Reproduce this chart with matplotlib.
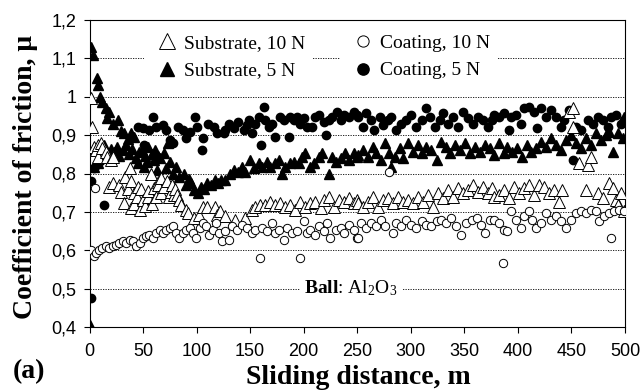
import matplotlib
matplotlib.use("Agg")
import matplotlib.pyplot as plt

# ---- data (sliding distance in m, friction coefficient) ----
sub10_x = [1.2, 2.8, 4.4, 6, 7.5, 7.5, 10.6, 12, 15.3, 16.8, 18.4, 20, 21.5, 21.5, 28, 29.3,
           32.5, 33, 36, 37.5, 38.7, 39, 41.8, 42, 44, 45, 47, 48, 50, 52, 54.3, 55, 57.4, 58,
           60.5, 62, 63.5, 64, 66.6, 67, 69.7, 72, 74, 76, 77, 79, 80, 82, 84, 85.5, 90, 91.8,
           98, 102.7, 105.8, 110, 117, 118.6, 121.8,
           126.7, 136, 145.4, 151.7, 154.8, 159.5, 164.2, 168.9, 173.5, 178.2, 183, 187.6,
           192.3, 197, 201.6, 206.3, 211, 215.7, 218.8, 223.5, 228.2, 232.8, 237.5, 242.2,
           246.9, 250,
           250.6, 255, 260, 264.6, 269.3, 274, 278.7, 283.3, 288, 292.7, 297.4, 302, 306.7,
           311.4, 316, 320.8, 325.5, 330, 334.8, 339.5, 344, 349, 353.6, 358, 363, 367.6,
           372.3, 375.4,
           377.6, 382.3, 387, 391.7, 396.3, 401, 405.7, 410.4, 415, 419.8, 424.4, 429, 433.8,
           438.5, 441.6, 447.8, 451, 451, 457.2, 463.5, 465, 468, 474.4, 479, 485.3, 488.4,
           491.5, 493, 496.2, 499.3]
sub10_y = [0.996, 0.922, 0.87, 0.861, 0.874, 0.844, 0.879, 0.866, 0.857, 0.844, 0.766, 0.835,
           0.844, 0.775, 0.77, 0.753, 0.723, 0.79, 0.76, 0.814, 0.71, 0.78, 0.749, 0.72, 0.74,
           0.766, 0.705, 0.76, 0.731, 0.715, 0.74, 0.755, 0.8, 0.72, 0.762, 0.74, 0.779, 0.77,
           0.788, 0.75, 0.766, 0.78, 0.74, 0.753, 0.77, 0.744, 0.76, 0.745, 0.731, 0.718, 0.705,
           0.697, 0.684, 0.692, 0.714, 0.714, 0.714, 0.692, 0.701,
           0.688, 0.679, 0.684, 0.705, 0.714, 0.718, 0.718, 0.727, 0.718, 0.723, 0.714, 0.718,
           0.705, 0.727, 0.714, 0.723, 0.727, 0.71, 0.731, 0.74, 0.714, 0.731, 0.727, 0.736,
           0.723, 0.731,
           0.723, 0.714, 0.727, 0.74, 0.714, 0.731, 0.736, 0.723, 0.74, 0.727, 0.731, 0.723,
           0.74, 0.727, 0.744, 0.714, 0.749, 0.736, 0.757, 0.74, 0.762, 0.749, 0.757, 0.77,
           0.753, 0.766, 0.749, 0.762,
           0.74, 0.744, 0.757, 0.736, 0.766, 0.749, 0.762, 0.77, 0.744, 0.77, 0.766, 0.749,
           0.757, 0.727, 0.757, 0.961, 0.97, 0.922, 0.827, 0.757, 0.822, 0.844, 0.749, 0.736,
           0.775, 0.762, 0.731, 0.718, 0.749, 0.701]

sub5_x = [0.5, 1.2, 3.7, 6.9, 8.4, 10, 12, 15.3, 16.8, 18.4, 22, 26.2, 29.3, 32.5, 35.6, 38.7,
          41.8, 4.4, 7.5, 12, 14, 17, 20, 23, 26, 28, 31, 34, 37, 40, 43, 46, 49, 52, 55, 58,
          61, 64, 45, 51, 54, 57, 60.5, 63, 66, 70, 71, 73, 75, 78, 81, 84, 88, 90, 93, 95, 98,
          101, 104, 107, 110, 113, 117, 120, 123,
          126.7, 131.4, 134.5, 139, 142.3, 145.4, 150, 153.3, 158, 161, 165.7, 168.9, 173.5,
          176.7, 179.8, 183, 187.6, 190.7, 195.4, 198.5, 201.6, 206.3, 209.4, 214, 217.2,
          223.5, 226.6, 229.7, 234.4, 239, 242.2, 246.9, 250,
          250.6, 255, 260, 264.6, 267.7, 272.4, 275.5, 280, 281.8, 285, 289.6, 292.7, 297.4,
          302, 306.7, 310, 314.5, 319, 324, 328.6, 333, 336.4, 341, 345.8, 350.4, 355, 359.8,
          364.5, 369, 373.8,
          377.6, 382.3, 387, 390, 394.8, 399.5, 404, 408.8, 412, 416.6, 421.3, 426, 430.7,
          435.4, 440, 444.7, 449.4, 454, 458.8, 463.5, 468, 473, 477.5, 482, 485.3, 488.4,
          493, 497.8, 499.3]
sub5_y = [0.405, 1.13, 1.11, 1.048, 1.03, 1.0, 0.987, 0.97, 0.944, 0.96, 0.93, 0.94, 0.91,
          0.905, 0.89, 0.905, 0.896, 0.818, 0.827, 0.86, 0.875, 0.85, 0.865, 0.855, 0.87, 0.845,
          0.86, 0.875, 0.85, 0.865, 0.84, 0.855, 0.86, 0.845, 0.87, 0.85, 0.86, 0.845, 0.827,
          0.818, 0.83, 0.8, 0.835, 0.81, 0.84, 0.853, 0.814, 0.88, 0.83, 0.8, 0.818, 0.79, 0.8,
          0.77, 0.785, 0.775, 0.757, 0.75, 0.766, 0.76, 0.775, 0.77, 0.783, 0.775, 0.783,
          0.783, 0.8, 0.809, 0.805, 0.818, 0.805, 0.835, 0.814, 0.827, 0.818, 0.831, 0.818,
          0.827, 0.835, 0.8, 0.818, 0.827, 0.831, 0.827, 0.844, 0.853, 0.818, 0.827, 0.844,
          0.853, 0.8, 0.844, 0.831, 0.84, 0.853, 0.835, 0.853, 0.844,
          0.848, 0.861, 0.844, 0.87, 0.853, 0.835, 0.879, 0.853, 0.818, 0.844, 0.866, 0.84,
          0.879, 0.857, 0.874, 0.853, 0.87, 0.861, 0.835, 0.883, 0.87, 0.853, 0.874, 0.861,
          0.879, 0.853, 0.87, 0.857, 0.874, 0.866,
          0.848, 0.879, 0.853, 0.87, 0.857, 0.866, 0.844, 0.874, 0.857, 0.866, 0.883, 0.87,
          0.892, 0.874, 0.861, 0.887, 0.9, 0.879, 0.866, 0.892, 0.874, 0.905, 0.887, 0.9,
          0.909, 0.857, 0.905, 0.892, 0.948]

coat10_x = [1.2, 4.4, 6, 9, 5, 12, 15.3, 18.4, 21.5, 24.6, 27.8, 31, 34, 37.5, 40.5, 43.6, 47,
            50, 53, 56, 59, 62.5, 65.6, 68.7, 71.8, 75, 78, 81, 84, 87, 90, 93.6, 96.7, 99.8,
            103, 105.8, 109, 112, 115, 118, 121, 124,
            126.7, 129.8, 133, 137.6, 142.3, 147, 151.7, 154.8, 159.5, 161, 165.7, 170.4,
            173.5, 176.7, 181.3, 184.5, 189, 193.8, 197, 200, 203.2, 206.3, 211, 214, 218.8,
            222, 225, 229.7, 234.4, 237.5, 242.2, 246.9, 250,
            250.6, 253.7, 258.4, 263, 267.7, 272.4, 275.5, 280, 283.3, 286.5, 291, 295.8,
            300.5, 305, 310, 314.5, 319, 324, 328.6, 333, 338, 342.6, 347.3, 352, 356.7, 361.4,
            366, 369, 373.8,
            377.6, 382.3, 386.4, 387, 390, 393.2, 398, 402.6, 405.7, 410.4, 413.5, 416.6,
            421.3, 426, 430.7, 435.4, 440, 444.7, 449.4, 454, 458.8, 463.5, 468, 473, 476,
            480.6, 485.3, 487, 490, 494.6, 499.3]
coat10_y = [0.601, 0.584, 0.592, 0.601, 0.762, 0.605, 0.61, 0.605, 0.61, 0.614, 0.618, 0.623,
            0.618, 0.627, 0.623, 0.61, 0.618, 0.631, 0.636, 0.64, 0.631, 0.644, 0.653, 0.644,
            0.653, 0.657, 0.662, 0.644, 0.631, 0.644, 0.653, 0.657, 0.644, 0.631, 0.657, 0.67,
            0.662, 0.64, 0.653, 0.67, 0.644, 0.623,
            0.649, 0.627, 0.662, 0.653, 0.666, 0.657, 0.644, 0.653, 0.579, 0.657, 0.649, 0.67,
            0.644, 0.653, 0.627, 0.657, 0.644, 0.649, 0.579, 0.675, 0.644, 0.653, 0.64, 0.662,
            0.649, 0.67, 0.631, 0.653, 0.657, 0.644, 0.666, 0.653, 0.631,
            0.631, 0.67, 0.657, 0.67, 0.662, 0.679, 0.662, 0.805, 0.644, 0.67, 0.662, 0.679,
            0.666, 0.657, 0.675, 0.666, 0.662, 0.675, 0.679, 0.67, 0.684, 0.662, 0.64, 0.67,
            0.679, 0.684, 0.666, 0.644, 0.679,
            0.679, 0.67, 0.568, 0.653, 0.649, 0.701, 0.679, 0.657, 0.688, 0.701, 0.679, 0.657,
            0.67, 0.697, 0.679, 0.688, 0.675, 0.657, 0.679, 0.697, 0.701, 0.697, 0.705, 0.701,
            0.675, 0.688, 0.697, 0.631, 0.701, 0.705, 0.701]

coat5_x = [1, 1, 4, 6, 8, 10, 14, 45.6, 50, 51, 56, 59, 62, 68.5, 71.5, 75, 78, 82.7, 87, 90,
           93.6, 98.3, 100, 104.9, 106, 111, 115.8, 119, 125.2,
           126.7, 129.8, 134.5, 139, 144, 147, 148.6, 151.7, 154.8, 158, 160.4, 162.6, 164.2,
           167.3, 170.4, 173.5, 178.2, 181.3, 186, 187.6, 190.7, 193.8, 197, 200, 203, 208,
           211, 214, 218.8, 220.4, 223.5, 226.6, 231.3, 234.4, 237.5, 242.2, 246.9, 250,
           250.6, 255, 258.4, 263, 266, 271, 274, 278.7, 281.8, 286.5, 291, 295.8, 300.5, 305,
           310, 314.5, 317.7, 322.3, 327, 330, 334.8, 339.5, 344, 349, 353.6, 358, 363, 367.6,
           372.3, 375.4,
           377.6, 382.3, 387, 391.7, 393.2, 398, 402.6, 405.7, 410.4, 415, 418.2, 421.3, 426,
           430.7, 435.4, 440, 443.2, 447.8, 451, 454, 458.8, 465, 469.7, 474.4, 479, 483.7,
           487, 491.5, 496.2, 499.3]
coat5_y = [0.475, 0.78, 0.815, 0.822, 0.83, 0.833, 0.718, 0.922, 0.918, 0.874, 0.913, 0.948,
           0.922, 0.927, 0.913, 0.888, 0.879, 0.922, 0.913, 0.892, 0.909, 0.948, 0.922, 0.861,
           0.892, 0.93, 0.922, 0.905, 0.905,
           0.913, 0.93, 0.918, 0.935, 0.913, 0.927, 0.94, 0.905, 0.93, 0.948, 0.874, 0.974,
           0.94, 0.922, 0.93, 0.896, 0.948, 0.94, 0.896, 0.948, 0.94, 0.948, 0.93, 0.944,
           0.922, 0.922, 0.948, 0.953, 0.935, 0.9, 0.94, 0.948, 0.961, 0.94, 0.953, 0.948,
           0.961, 0.953,
           0.948, 0.922, 0.957, 0.94, 0.913, 0.948, 0.927, 0.94, 0.948, 0.913, 0.93, 0.94,
           0.953, 0.922, 0.94, 0.97, 0.948, 0.922, 0.94, 0.957, 0.93, 0.948, 0.922, 0.961,
           0.944, 0.93, 0.948, 0.94, 0.922, 0.94,
           0.953, 0.948, 0.957, 0.913, 0.948, 0.953, 0.93, 0.97, 0.974, 0.961, 0.918, 0.97,
           0.948, 0.966, 0.948, 0.922, 0.94, 0.966, 0.835, 0.922, 0.913, 0.94, 0.93, 0.948,
           0.94, 0.922, 0.948, 0.953, 0.93, 0.94]

x_ticks = [0, 50, 100, 150, 200, 250, 300, 350, 400, 450, 500]
y_ticks = [0.4, 0.5, 0.6, 0.7, 0.8, 0.9, 1.0, 1.1, 1.2]
y_tick_labels = ["0,4", "0,5", "0,6", "0,7", "0,8", "0,9", "1", "1,1", "1,2"]

plt.rcParams["font.family"] = ["Liberation Sans", "DejaVu Sans"]
plt.rcParams["mathtext.fontset"] = "custom"
plt.rcParams["mathtext.rm"] = "Liberation Serif"
plt.rcParams["mathtext.it"] = "Liberation Serif:italic"
plt.rcParams["mathtext.bf"] = "Liberation Serif:bold"

fig = plt.figure(figsize=(6.43, 3.90), dpi=100)
ax = fig.add_axes([89.5 / 643, 63 / 390, 535.5 / 643, 307 / 390])

ax.plot(coat5_x, coat5_y, ls="none", marker="o", ms=6.0, mfc="black", mec="black",
        zorder=2, label="Coating, 5 N")
ax.plot(sub5_x, sub5_y, ls="none", marker="^", ms=7.8, mfc="black", mec="black",
        zorder=3, label="Substrate, 5 N")
ax.plot(sub10_x, sub10_y, ls="none", marker="^", ms=8.8, mfc="white", mec="black",
        mew=0.7, zorder=4, label="Substrate, 10 N")
ax.plot(coat10_x, coat10_y, ls="none", marker="o", ms=6.0, mfc="white", mec="black",
        mew=0.7, zorder=5, label="Coating, 10 N")

ax.set_xlim(0, 500)
ax.set_ylim(0.4, 1.2)
ax.set_xticks(x_ticks)
ax.set_yticks(y_ticks)
ax.set_yticklabels(y_tick_labels)
ax.tick_params(direction="out", length=4.5, width=0.8, labelsize=13, colors="black")
ax.tick_params(axis="x", pad=7)
ax.tick_params(axis="y", pad=5)
for s in ax.spines.values():
    s.set_linewidth(0.8)
    s.set_color("black")

ax.set_axisbelow(True)
ax.yaxis.grid(True, linestyle=(0, (1.5, 1.5)), linewidth=0.6, color="black")

label_font = dict(family="Liberation Serif", weight="bold", size=20)
ax.set_xlabel("Sliding distance, m", **label_font)
ax.set_ylabel("Coefficient of friction, μ", **label_font)
ax.xaxis.set_label_coords(0.502, -0.125)
ax.yaxis.set_label_coords(-0.096, 0.49)
ax.xaxis.label.set_va("top")

handles = {h.get_label(): h for h in ax.get_lines()}
leg_kw = dict(loc="upper left", frameon=True, fancybox=False, framealpha=1,
              facecolor="white", edgecolor="none", borderpad=0.4, handlelength=1.6,
              handletextpad=0.1, labelspacing=0.5, borderaxespad=0, markerscale=1.35,
              prop=dict(family="Liberation Serif", size=14), numpoints=1)
leg1 = ax.legend([handles["Substrate, 10 N"], handles["Substrate, 5 N"]],
                 ["Substrate, 10 N", "Substrate, 5 N"],
                 bbox_to_anchor=(0.101, 0.978), **leg_kw)
leg1.set_zorder(10)
ax.add_artist(leg1)
leg2 = ax.legend([handles["Coating, 10 N"], handles["Coating, 5 N"]],
                 ["Coating, 10 N", "Coating, 5 N"],
                 bbox_to_anchor=(0.467, 0.978), **leg_kw)
leg2.set_zorder(10)

ax.text(244, 0.5, r"$\mathbf{Ball}$: Al$_2$O$_3$", ha="center", va="center", fontsize=14,
        family="Liberation Serif", zorder=10,
        bbox=dict(facecolor="white", edgecolor="none", pad=3))

fig.text(13 / 643, 0.048, "(a)", family="Liberation Serif", weight="bold", size=20,
         ha="left", va="center")

fig.savefig("out.png", dpi=100)
